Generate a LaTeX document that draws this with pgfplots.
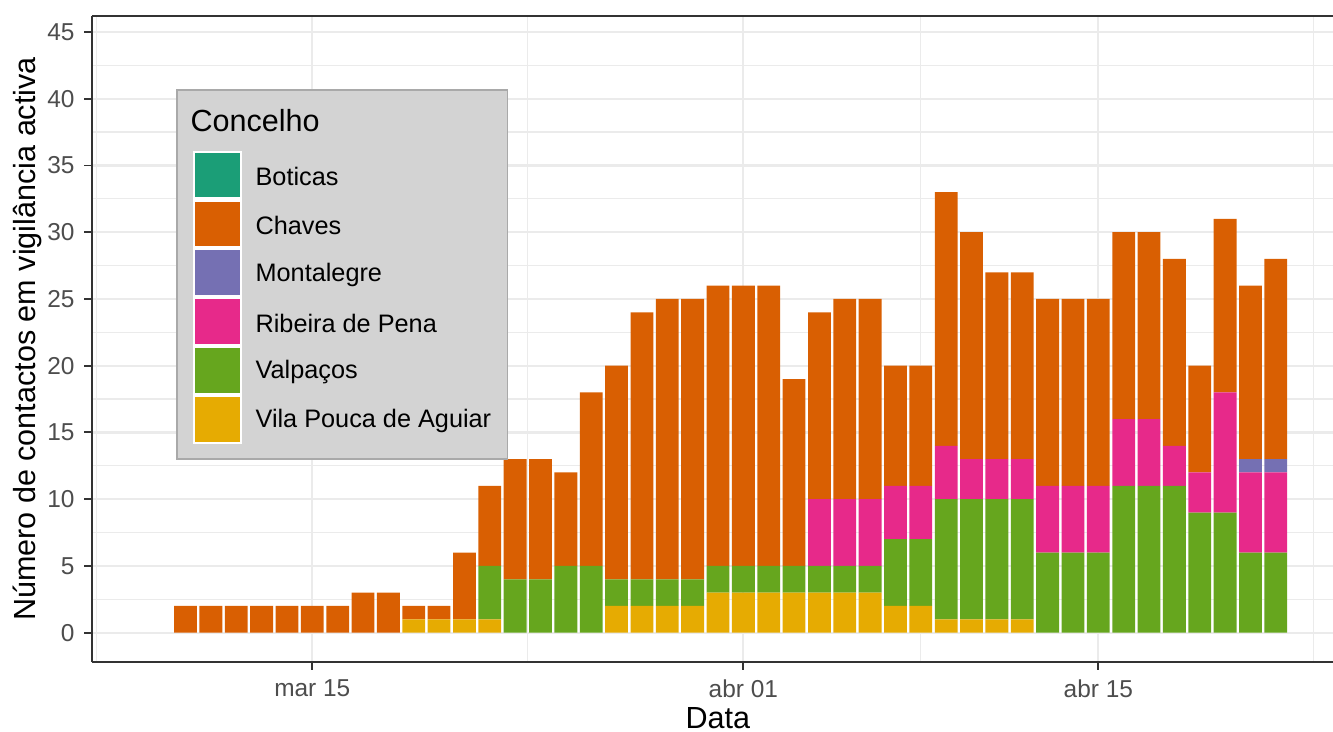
\documentclass[border=0pt]{standalone}
\usepackage{pgfplots}
\pgfplotsset{compat=1.18}
\usepackage{pgfplotstable}
\usepackage{fontspec}
\setmainfont{Liberation Sans}

% Dark2 palette
\definecolor{cBot}{HTML}{1B9E77}
\definecolor{cCha}{HTML}{D95F02}
\definecolor{cMon}{HTML}{7570B3}
\definecolor{cRdp}{HTML}{E7298A}
\definecolor{cVal}{HTML}{66A61E}
\definecolor{cVpa}{HTML}{E6AB02}
\definecolor{grid92}{HTML}{EBEBEB}
\definecolor{grey20}{HTML}{333333}
\definecolor{grey30}{HTML}{4D4D4D}
\definecolor{legfill}{HTML}{D3D3D3}
\definecolor{legdraw}{HTML}{A9A9A9}

% x = days since 1 March (8 = mar 09, 31 = abr 01)
\pgfplotstableread{
x  vpa val rdp mon cha
8  0 0 0 0 0
9  0 0 0 0 2
10 0 0 0 0 2
11 0 0 0 0 2
12 0 0 0 0 2
13 0 0 0 0 2
14 0 0 0 0 2
15 0 0 0 0 2
16 0 0 0 0 3
17 0 0 0 0 3
18 1 0 0 0 1
19 1 0 0 0 1
20 1 0 0 0 5
21 1 4 0 0 6
22 0 4 0 0 9
23 0 4 0 0 9
24 0 5 0 0 7
25 0 5 0 0 13
26 2 2 0 0 16
27 2 2 0 0 20
28 2 2 0 0 21
29 2 2 0 0 21
30 3 2 0 0 21
31 3 2 0 0 21
32 3 2 0 0 21
33 3 2 0 0 14
34 3 2 5 0 14
35 3 2 5 0 15
36 3 2 5 0 15
37 2 5 4 0 9
38 2 5 4 0 9
39 1 9 4 0 19
40 1 9 3 0 17
41 1 9 3 0 14
42 1 9 3 0 14
43 0 6 5 0 14
44 0 6 5 0 14
45 0 6 5 0 14
46 0 11 5 0 14
47 0 11 5 0 14
48 0 11 3 0 14
49 0 9 3 0 8
50 0 9 9 0 13
51 0 6 6 1 13
52 0 6 6 1 15
}\contactos

\begin{document}
\begin{tikzpicture}
\begin{axis}[
  at={(0,0)}, anchor=south west,
  scale only axis, width=446.76pt, height=232.56pt,
  xmin=5.311, xmax=54.256, ymin=-2.2, ymax=46.2,
  ybar stacked, bar width=0.9,
  axis x line*=bottom, axis y line*=left,
  axis line style={grey20, line width=0.7pt, -},
  xtick={14,31,45}, xticklabels={mar 15, abr 01, abr 15},
  minor xtick={5.5,22.5,38,53.5},
  ytick={0,5,...,45}, minor ytick={2.5,7.5,...,42.5},
  grid=both,
  major grid style={grid92, line width=0.8pt},
  minor grid style={grid92, line width=0.45pt},
  tick align=outside, major tick length=2.75pt, minor tick length=0pt,
  tick style={grey20, line width=0.7pt},
  tick label style={font=\fontsize{8.8}{10}\selectfont, text=grey30},
  /pgf/number format/assume math mode=true,
  xlabel={Data},
  ylabel={Número de contactos em vigilância activa},
  label style={font=\fontsize{11}{13}\selectfont},
  xlabel style={at={(axis description cs:0.5044,-0.1026)}, anchor=base},
  ylabel style={at={(axis description cs:-0.0459,0.5)}, anchor=base, rotate=0},
  legend image code/.code={
    \fill[white, draw=none] (0pt,-8.15pt) rectangle (17.6pt,9.45pt);
    \fill[#1, draw=none] (0.75pt,-7.4pt) rectangle (16.85pt,8.7pt);
    \path (22.3pt,0pt);
  },
  legend cell align=left,
  legend style={
    at={(0.0677,0.887)}, anchor=north west,
    fill=legfill, draw=legdraw, line width=0.55pt,
    font=\fontsize{9.1}{10}\selectfont,
    inner xsep=5.8pt, inner ysep=5.4pt,
    nodes={inner sep=0pt, text depth=},
    row sep=0pt,
  },
]
\addlegendimage{empty legend}
\addlegendentry{\hspace{-23.4pt}\fontsize{11}{13}\selectfont\rule[-7pt]{0pt}{16.5pt}Concelho}
\addlegendimage{fill=cBot}\addlegendentry{Boticas}
\addlegendimage{fill=cCha}\addlegendentry{Chaves}
\addlegendimage{fill=cMon}\addlegendentry{Montalegre}
\addlegendimage{fill=cRdp}\addlegendentry{Ribeira de Pena}
\addlegendimage{fill=cVal}\addlegendentry{Valpaços}
\addlegendimage{fill=cVpa}\addlegendentry{Vila Pouca de Aguiar}

\addplot[fill=cVpa, draw=none] table[x=x, y=vpa]{\contactos};
\addplot[fill=cVal, draw=none] table[x=x, y=val]{\contactos};
\addplot[fill=cRdp, draw=none] table[x=x, y=rdp]{\contactos};
\addplot[fill=cMon, draw=none] table[x=x, y=mon]{\contactos};
\addplot[fill=cCha, draw=none] table[x=x, y=cha]{\contactos};
\end{axis}
\draw[grey20, line width=0.7pt] (0pt,232.56pt) -- (446.76pt,232.56pt);
\pgfresetboundingbox
\path (-33.12pt,-24.84pt) rectangle (446.76pt,238.32pt);
\end{tikzpicture}
\end{document}
